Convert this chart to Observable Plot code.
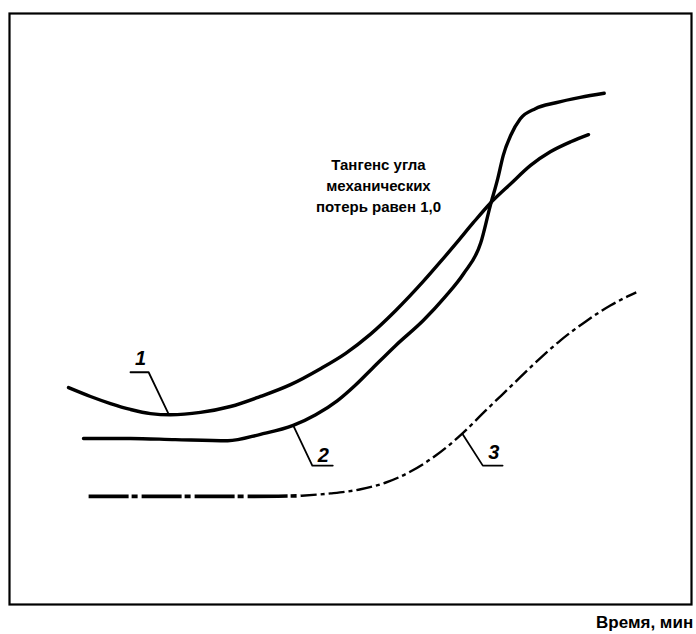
<!DOCTYPE html>
<html><head><meta charset="utf-8">
<script src="https://cdn.jsdelivr.net/npm/d3@7"></script>
<script src="https://cdn.jsdelivr.net/npm/@observablehq/plot@0.6"></script>
<style>body{margin:0;background:#fff}</style>
</head><body><div id="chart"></div>
<script>
// Curve 1 (time, value) — arbitrary units
const curve1X = [8.65,11.88,14.81,17.74,20.67,23.61,28.0,32.4,36.8,41.2,45.6,49.3,52.9,56.6,60.7,63.2,65.7,68.0,70.5,73.5,76.4,79.3,82.3,84.9];
const curve1Y = [36.7,35.2,34.0,33.0,32.3,32.1,32.5,33.5,35.2,37.2,39.9,42.5,45.7,49.7,54.7,58.0,61.4,64.6,67.9,71.2,74.3,76.6,78.3,79.5];
// Curve 2
const curve2X = [10.85,17.74,24.3,32.0,36.8,41.6,44.9,48.1,50.7,52.9,56.6,60.7,63.9,66.6,69.1,70.5,71.6,72.4,73.5,74.9,77.1,80.1,83.7,87.2];
const curve2Y = [28.1,28.1,27.9,27.7,28.8,30.3,32.1,34.5,37.1,39.6,43.8,48.1,52.1,56.0,61.2,67.5,72.1,76.0,79.4,82.2,83.9,84.9,85.8,86.5];
// Curve 3 (dash-dot)
const curve3X = [11.6,20.7,28.0,35.3,42.7,47.1,51.5,55.1,58.8,62.5,66.1,69.8,73.5,77.1,80.8,84.5,88.1,91.9];
const curve3Y = [18.3,18.3,18.3,18.3,18.4,18.8,19.5,20.6,22.5,25.2,28.6,32.8,36.9,40.9,44.7,47.9,50.6,52.8];
const curve3FlatEnd = 42.7;

// Curve labels and their leader lines
const labelText = ["1","2","3"];
const labelX = [19.2,46.0,71.0];
const labelY = [41.6,25.2,25.7];
const leaderX = [[17.74,20.4,23.3],[41.6,44.4,47.4],[66.4,69.4,72.3]];
const leaderY = [[39.3,39.3,32.3],[30.3,23.5,23.5],[28.9,23.5,23.5]];

// Annotation and axis caption
const noteText = "Тангенс угла\nмеханических\nпотерь равен 1,0";
const noteX = 54.1, noteY = 71.1;
const axisCaption = "Время, мин";
const captionX = 86.0, captionY = -3.0;

const toRows = (xs, ys) => xs.map((x, i) => ({x, y: ys[i]}));
const c1 = toRows(curve1X, curve1Y);
const c2 = toRows(curve2X, curve2Y);
const c3 = toRows(curve3X, curve3Y);
const c3flat = c3.filter(d => d.x <= curve3FlatEnd);
const c3rise = c3.filter(d => d.x >= curve3FlatEnd);
const leaders = leaderX.flatMap((xs, k) => xs.map((x, i) => ({k, x, y: leaderY[k][i]})));
const labels = labelText.map((t, i) => ({t, x: labelX[i], y: labelY[i]}));

const chart = Plot.plot({
  width: 696, height: 634,
  marginLeft: 9, marginRight: 5, marginTop: 13, marginBottom: 30,
  x: {domain: [0, 100], axis: null},
  y: {domain: [0, 100], axis: null},
  style: {fontFamily: "'Liberation Sans', Arial, sans-serif", background: "#fff"},
  marks: [
    Plot.frame({stroke: "#000", strokeWidth: 2.2}),
    Plot.line(c1, {x: "x", y: "y", curve: "monotone-x", stroke: "#000", strokeWidth: 3.4}),
    Plot.line(c2, {x: "x", y: "y", curve: "monotone-x", stroke: "#000", strokeWidth: 3.4}),
    Plot.line(c3flat, {x: "x", y: "y", curve: "monotone-x", stroke: "#000", strokeWidth: 3.6, strokeDasharray: "40,3,6,4", strokeLinecap: "butt"}),
    Plot.line(c3rise, {x: "x", y: "y", curve: "monotone-x", stroke: "#000", strokeWidth: 2.4, strokeDasharray: "16,4,4,4", strokeLinecap: "butt"}),
    Plot.line(leaders, {x: "x", y: "y", z: "k", stroke: "#000", strokeWidth: 1.8}),
    Plot.text(labels, {x: "x", y: "y", text: "t", fontSize: 20, fontWeight: "bold", fontStyle: "italic", fill: "#000"}),
    Plot.text([noteText], {x: noteX, y: noteY, text: d => d, fontSize: 15, fontWeight: "bold", lineHeight: 1.4, textAnchor: "middle", fill: "#000"}),
    Plot.text([axisCaption], {x: captionX, y: captionY, text: d => d, fontSize: 17, fontWeight: "bold", textAnchor: "start", fill: "#000"})
  ]
});
document.getElementById("chart").appendChild(chart);
</script>
</body></html>
